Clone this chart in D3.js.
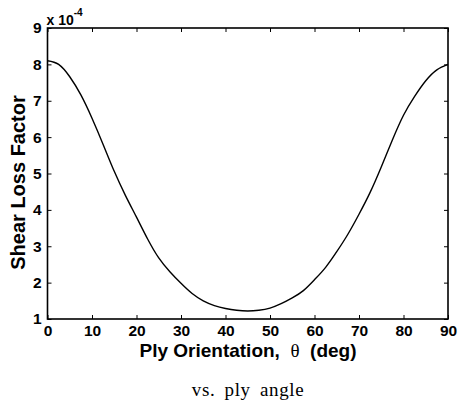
<!DOCTYPE html>
<html>
<head>
<meta charset="utf-8">
<script src="https://cdn.jsdelivr.net/npm/d3@7"></script>
<style>
  body { margin: 0; background: #fff; }
  svg { display: block; }
  .tick text { font-family: "Liberation Sans", Arial, sans-serif; font-weight: bold; font-size: 15.5px; fill: #000; }
  .tick line { stroke: #000; stroke-width: 1; }
</style>
</head>
<body>
<svg id="chart"></svg>
<script>
// ply angle (deg) and shear loss factor (x 1e-4)
var angles = [0, 2.5, 5, 7.5, 10, 12.5, 15, 17.5, 20, 22.5, 25, 27.5, 30, 32.5, 35, 37.5, 40, 42.5, 45,
              47.5, 50, 52.5, 55, 57.5, 60, 62.5, 65, 67.5, 70, 72.5, 75, 77.5, 80, 82.5, 85, 87.5, 90];
var lossFactor = [8.10, 8.00, 7.66, 7.16, 6.52, 5.80, 5.06, 4.40, 3.80, 3.20, 2.68, 2.30, 1.98, 1.70, 1.50, 1.37, 1.29, 1.24, 1.22,
                  1.24, 1.30, 1.42, 1.58, 1.78, 2.08, 2.42, 2.85, 3.33, 3.88, 4.48, 5.18, 5.92, 6.60, 7.12, 7.55, 7.85, 8.00];
var xTicks = [0, 10, 20, 30, 40, 50, 60, 70, 80, 90];
var yTicks = [1, 2, 3, 4, 5, 6, 7, 8, 9];

var W = 460, H = 405;
var margin = {top: 28, right: 12, bottom: 86, left: 47.5};
var width = 448 - margin.left, height = 319 - margin.top;

var svg = d3.select('#chart').attr('width', W).attr('height', H);

var xs = d3.scaleLinear().domain([0, 90]).range([0, width]);
var ys = d3.scaleLinear().domain([1, 9]).range([height, 0]);

var g = svg.append('g').attr('transform', 'translate(' + margin.left + ',' + margin.top + ')');

// bottom / left axes with labels, ticks pointing inward
g.append('g')
    .attr('transform', 'translate(0,' + height + ')')
    .call(d3.axisBottom(xs).tickValues(xTicks).tickSizeInner(-4).tickSizeOuter(0).tickPadding(6))
    .call(a => a.select('.domain').remove());

g.append('g')
    .call(d3.axisLeft(ys).tickValues(yTicks).tickSizeInner(-4).tickSizeOuter(0).tickPadding(6))
    .call(a => a.select('.domain').remove());

// top / right: ticks only
g.append('g')
    .call(d3.axisTop(xs).tickValues(xTicks).tickSizeInner(-4).tickSizeOuter(0).tickFormat(''))
    .call(a => a.select('.domain').remove());

g.append('g')
    .attr('transform', 'translate(' + width + ',0)')
    .call(d3.axisRight(ys).tickValues(yTicks).tickSizeInner(-4).tickSizeOuter(0).tickFormat(''))
    .call(a => a.select('.domain').remove());

g.append('rect')
    .attr('width', width)
    .attr('height', height)
    .attr('fill', 'none')
    .attr('stroke', '#000')
    .attr('stroke-width', 1.6);

var line = d3.line()
    .x(function(d, i) { return xs(angles[i]); })
    .y(function(d) { return ys(d); })
    .curve(d3.curveNatural);

g.append('path')
    .datum(lossFactor)
    .attr('fill', 'none')
    .attr('stroke', '#000')
    .attr('stroke-width', 1.4)
    .attr('d', line);

// exponent label
var expo = svg.append('text')
    .attr('x', margin.left - 1)
    .attr('y', 25)
    .style('font-family', '"Liberation Sans", Arial, sans-serif')
    .style('font-weight', 'bold')
    .style('font-size', '14px');
expo.append('tspan').text('x 10');
expo.append('tspan').attr('dy', -9).style('font-size', '10px').text('-4');

// axis titles
svg.append('text')
    .attr('transform', 'translate(25,' + (margin.top + height / 2 + 9) + ') rotate(-90)')
    .style('text-anchor', 'middle')
    .style('font-family', '"Liberation Sans", Arial, sans-serif')
    .style('font-weight', 'bold')
    .style('font-size', '20px')
    .text('Shear Loss Factor');

var xt = svg.append('text')
    .attr('x', 248)
    .attr('y', 357)
    .style('text-anchor', 'middle')
    .style('font-family', '"Liberation Sans", Arial, sans-serif')
    .style('font-weight', 'bold')
    .style('font-size', '19px');
xt.append('tspan').text('Ply Orientation,\u00a0\u00a0');
xt.append('tspan').style('font-family', '"Liberation Serif", "Times New Roman", serif').style('font-weight', 'normal').text('\u03b8');
xt.append('tspan').text('\u00a0\u00a0(deg)');

svg.append('text')
    .attr('x', 248)
    .attr('y', 396)
    .style('text-anchor', 'middle')
    .style('font-family', '"Liberation Serif", "Times New Roman", serif')
    .style('font-size', '19px')
    .style('letter-spacing', '0.6px')
    .style('word-spacing', '4px')
    .text('vs. ply angle');
</script>
</body>
</html>
